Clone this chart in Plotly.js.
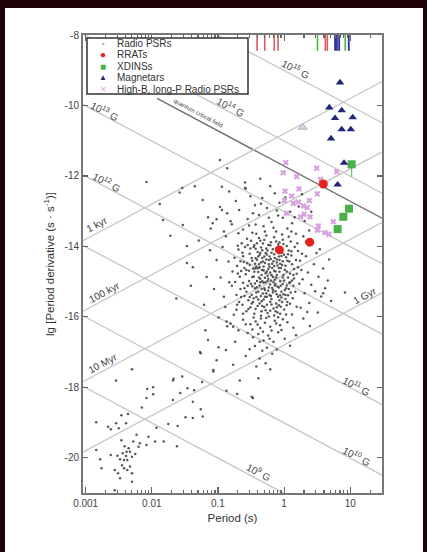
<!DOCTYPE html>
<html><head><meta charset="utf-8">
<script src="https://cdn.plot.ly/plotly-3.0.1.min.js"></script>
<style>html,body{margin:0;padding:0;background:#fff;}#chart{width:427px;height:552px;}</style>
</head><body><div id="chart"></div>
<script>
// ---- Radio pulsars, read as [lg P, lg Pdot] ----
const radioPsrCore = [[-0.52,-14.21],[-0.47,-14.63],[-0.41,-14.38],[-0.36,-14.92],[-0.33,-14.11],[-0.29,-14.47],[-0.25,-14.83],[-0.22,-14.29],[-0.18,-14.61],[-0.14,-14.95],[-0.11,-14.37],[-0.07,-14.72],[-0.03,-14.18],[0.02,-14.55],[0.06,-14.88],[0.11,-14.26],[0.15,-14.64],[-0.58,-14.79],[-0.61,-14.44],[-0.55,-15.12],[-0.49,-15.37],[-0.44,-15.05],[-0.39,-15.28],[-0.34,-15.56],[-0.30,-15.19],[-0.26,-15.43],[-0.21,-15.08],[-0.17,-15.31],[-0.12,-15.62],[-0.08,-15.17],[-0.04,-15.45],[0.01,-15.24],[0.05,-15.58],[0.09,-15.02],[-0.66,-15.21],[-0.63,-15.66],[-0.57,-15.84],[-0.51,-15.73],[-0.45,-15.91],[-0.40,-15.69],[-0.35,-15.97],[-0.28,-15.81],[-0.23,-15.99],[-0.16,-15.76],[-0.10,-15.88],[-0.05,-15.71],[0.03,-15.93],[-0.50,-13.84],[-0.45,-13.97],[-0.38,-13.76],[-0.32,-13.92],[-0.27,-13.69],[-0.20,-13.88],[-0.15,-13.74],[-0.09,-13.95],[-0.02,-13.81],[0.04,-13.99],[0.10,-13.86],[0.16,-14.02],[0.21,-14.13],[0.24,-14.41],[0.19,-14.78],[0.23,-15.06],[0.17,-15.29],[0.13,-15.47],[0.26,-14.67],[-0.69,-14.09],[-0.64,-13.91],[-0.59,-14.02],[-0.56,-14.48],[-0.71,-14.56],[-0.67,-14.86],[-0.74,-15.01],[-0.43,-14.07],[-0.37,-14.24],[-0.31,-14.68],[-0.27,-14.06],[-0.23,-14.51],[-0.19,-14.18],[-0.16,-14.42],[-0.13,-14.71],[-0.09,-14.14],[-0.06,-14.49],[-0.01,-14.81],[0.03,-14.31],[0.07,-14.12],[-0.42,-14.57],[-0.46,-14.86],[-0.39,-14.73],[-0.35,-14.46],[-0.29,-14.89],[-0.24,-14.64],[-0.20,-14.97],[-0.15,-14.22],[-0.10,-14.54],[-0.06,-14.99],[-0.02,-14.42],[0.04,-14.71],[0.08,-14.43],[0.12,-14.97],[-0.53,-14.98],[-0.48,-14.41],[-0.44,-15.19],[-0.37,-15.11],[-0.32,-15.34],[-0.28,-15.02],[-0.24,-15.26],[-0.19,-15.49],[-0.14,-15.11],[-0.11,-15.36],[-0.07,-15.53],[-0.02,-15.07],[0.02,-15.38],[0.07,-15.21],[-0.60,-15.41],[-0.54,-15.53],[-0.47,-15.58],[-0.42,-15.44],[-0.37,-15.62],[-0.31,-15.51],[-0.26,-15.66],[-0.21,-15.57],[-0.13,-15.84],[-0.08,-15.67],[0.00,-15.79],[0.06,-15.39],[-0.33,-14.33],[-0.26,-14.23],[-0.12,-14.05],[-0.40,-14.16],[-0.21,-14.74],[-0.05,-14.61],[0.00,-14.97],[-0.17,-14.87],[-0.34,-14.81],[-0.48,-15.13],[-0.52,-14.53],[-0.57,-14.67],[-0.62,-15.03],[-0.46,-15.47],[-0.30,-15.72],[-0.18,-15.18],[-0.04,-15.29],[0.09,-15.63],[0.14,-14.81],[0.18,-14.39],[0.11,-14.14],[-0.36,-13.84],[-0.24,-13.96],[-0.07,-13.89],[0.07,-13.73],[-0.56,-13.78],[-0.70,-13.98],[-0.62,-14.28],[-0.75,-14.32],[-0.78,-14.71],[-0.72,-15.38],[-0.68,-15.58],[-0.79,-15.12],[-0.65,-14.70],[-0.35,-15.41],[-0.41,-14.98],[-0.22,-15.38],[-0.10,-15.14],[0.04,-15.11],[-0.27,-14.37],[-0.11,-14.81],[-0.43,-14.34],[-0.38,-14.51],[-0.30,-14.29],[-0.15,-14.56],[-0.20,-14.36],[-0.08,-14.29],[-0.25,-14.98],[-0.33,-14.99]];
const radioPsrCoreDense = [[-0.49,-14.33],[-0.44,-14.49],[-0.40,-14.62],[-0.36,-14.19],[-0.31,-14.57],[-0.28,-14.76],[-0.23,-14.39],[-0.19,-14.81],[-0.14,-14.33],[-0.12,-14.88],[-0.08,-14.61],[-0.04,-14.27],[0.01,-14.66],[0.05,-14.41],[0.09,-14.77],[-0.53,-14.69],[-0.50,-15.06],[-0.45,-14.72],[-0.41,-15.16],[-0.38,-14.88],[-0.34,-15.21],[-0.31,-15.03],[-0.27,-15.33],[-0.23,-15.17],[-0.20,-15.41],[-0.16,-15.02],[-0.13,-15.27],[-0.09,-15.43],[-0.05,-15.12],[-0.01,-15.36],[0.03,-15.19],[-0.57,-15.29],[-0.52,-15.44],[-0.49,-15.62],[-0.43,-15.78],[-0.39,-15.51],[-0.33,-15.69],[-0.29,-15.43],[-0.25,-15.89],[-0.19,-15.65],[-0.15,-15.96],[-0.11,-15.73],[-0.06,-15.91],[-0.03,-15.58],[0.04,-15.67],[-0.46,-14.02],[-0.41,-13.91],[-0.35,-14.03],[-0.30,-13.82],[-0.25,-14.12],[-0.21,-13.97],[-0.17,-14.08],[-0.12,-13.86],[-0.06,-14.06],[-0.01,-13.93],[0.06,-14.22],[0.12,-14.51],[0.15,-14.91],[0.10,-15.31],[0.14,-15.12],[-0.60,-14.61],[-0.63,-14.18],[-0.66,-14.42],[-0.60,-15.19],[-0.65,-15.44],[-0.70,-14.77],[-0.55,-13.96],[-0.51,-14.06],[-0.32,-14.43],[-0.18,-14.49],[-0.07,-14.39],[-0.37,-14.59],[-0.26,-14.71],[-0.15,-14.69],[-0.03,-14.53],[0.00,-14.24],[-0.44,-14.63],[-0.33,-14.67],[-0.22,-14.58],[-0.11,-14.46],[-0.28,-14.19],[-0.39,-14.29],[-0.48,-14.87],[-0.36,-15.02],[-0.24,-14.92],[-0.13,-15.07],[-0.02,-14.88],[0.08,-15.03],[-0.42,-15.31],[-0.29,-15.24],[-0.17,-15.24],[-0.06,-15.39],[-0.54,-15.78],[-0.46,-16.02],[-0.34,-15.84],[-0.21,-15.83],[-0.09,-16.01],[0.02,-15.49],[-0.58,-16.21],[-0.40,-16.22],[-0.27,-16.03],[-0.12,-16.19],[-0.48,-16.36],[-0.32,-16.42],[-0.22,-16.62],[-0.37,-16.71],[-0.04,-16.37],[-0.62,-15.91],[-0.71,-15.66],[-0.76,-15.94],[0.19,-15.71],[0.12,-15.93],[0.21,-14.59],[0.27,-14.21],[0.20,-13.91],[-0.42,-13.64],[-0.29,-13.58],[-0.16,-13.47],[-0.03,-13.66],[0.11,-13.58],[-0.53,-13.41],[-0.69,-13.63],[-0.23,-13.19],[-0.47,-13.06],[-0.11,-12.98],[-0.35,-12.79]];
const radioPsrUpper = [[-0.62,-13.52],[-0.48,-13.61],[-0.31,-13.43],[-0.12,-13.58],[0.05,-13.49],[0.18,-13.64],[0.29,-13.71],[-0.79,-13.37],[-0.91,-13.58],[-0.55,-13.22],[-0.38,-13.11],[-0.19,-13.31],[-0.02,-13.19],[0.12,-13.34],[0.31,-13.28],[0.38,-13.55],[-0.68,-12.97],[-0.44,-12.83],[-0.26,-12.91],[-0.07,-12.76],[0.09,-13.02],[0.22,-12.87],[-0.86,-13.06],[-1.02,-13.23],[-0.97,-12.88],[-0.73,-12.71],[-0.51,-12.58],[-0.33,-12.63],[-0.14,-12.49],[0.02,-12.61],[-1.11,-13.49],[-0.58,-12.36],[-0.21,-12.29],[0.27,-12.52],[0.41,-13.02],[-0.83,-12.44],[-0.59,-12.19],[-0.36,-12.08],[-0.94,-12.31],[-0.43,-13.38],[-0.09,-13.12],[0.16,-13.17]];
const radioPsrRight = [[0.28,-14.93],[0.33,-14.28],[0.36,-14.74],[0.41,-15.09],[0.45,-14.51],[0.31,-15.33],[0.38,-15.61],[0.47,-15.27],[0.52,-14.86],[0.56,-15.42],[0.43,-13.91],[0.49,-14.19],[0.59,-14.63],[0.62,-15.19],[0.35,-15.86],[0.29,-16.05],[0.51,-15.88],[0.66,-14.97],[0.71,-15.55],[0.92,-15.31],[0.59,-15.33],[0.39,-16.26],[0.25,-15.74],[0.54,-14.08],[0.68,-14.37],[0.33,-13.87]];
const radioPsrLower = [[-0.62,-16.08],[-0.51,-16.21],[-0.43,-16.13],[-0.36,-16.32],[-0.29,-16.17],[-0.21,-16.28],[-0.14,-16.11],[-0.06,-16.24],[0.05,-16.15],[0.14,-16.31],[-0.55,-16.46],[-0.47,-16.58],[-0.39,-16.49],[-0.31,-16.67],[-0.24,-16.53],[-0.16,-16.71],[-0.09,-16.44],[0.01,-16.62],[-0.69,-16.38],[-0.44,-16.83],[-0.33,-16.96],[-0.26,-16.88],[-0.18,-17.05],[-0.37,-17.18],[-0.28,-17.32],[-0.52,-16.92],[-0.11,-16.93],[-0.58,-17.11],[-0.21,-17.49],[-0.42,-17.41],[0.09,-16.82],[-0.74,-16.71],[-0.81,-16.19],[-0.35,-16.05],[-0.19,-16.39],[-0.02,-16.07],[0.18,-16.52]];
const radioPsrLeft = [[-1.54,-12.34],[-1.35,-12.29],[-1.83,-13.25],[-1.23,-12.68],[-1.15,-13.17],[-1.47,-14.47],[-1.38,-14.59],[-1.17,-14.87],[-1.02,-14.39],[-0.89,-15.72],[-1.08,-13.34],[-0.86,-11.78],[-0.97,-11.55],[-0.59,-12.34],[-1.58,-12.47],[-1.88,-12.80],[-1.53,-13.39],[-1.72,-13.70],[-1.47,-13.99],[-2.08,-12.17],[-0.93,-14.02],[-0.88,-13.71],[-0.84,-14.43],[-0.96,-14.88],[-1.06,-15.21],[-0.91,-15.43],[-0.83,-15.02],[-1.21,-15.66],[-0.99,-16.02],[-0.86,-16.27],[-1.12,-14.11],[-1.29,-13.83],[-0.81,-13.29],[-1.41,-15.12],[-0.94,-12.97],[-1.19,-16.38],[-0.72,-15.80],[-1.63,-15.48]];
const radioPsrRecycled = [[-0.99,-16.86],[-1.07,-17.55],[-1.27,-17.00],[-1.24,-17.85],[-0.77,-17.36],[-0.67,-17.81],[-0.47,-18.30],[-0.87,-18.10],[-1.57,-18.16],[-1.68,-17.81],[-1.38,-18.41],[-1.98,-18.00],[-2.08,-18.30],[-0.71,-18.19],[-0.49,-18.27],[-0.39,-17.74]];
const radioPsrMsp = [[-2.54,-17.81],[-2.30,-17.49],[-2.07,-18.05],[-1.98,-18.20],[-2.15,-18.57],[-2.46,-18.79],[-2.36,-18.76],[-2.84,-18.99],[-2.66,-19.12],[-2.54,-19.02],[-2.39,-19.02],[-2.62,-19.19],[-2.50,-19.16],[-1.93,-19.15],[-1.75,-19.04],[-1.61,-19.10],[-1.49,-18.85],[-1.38,-18.87],[-1.26,-18.62],[-1.23,-18.83],[-1.68,-18.36],[-1.54,-17.69],[-1.67,-17.76],[-1.46,-18.03],[-1.36,-18.08],[-1.07,-17.51],[-1.02,-17.23],[-0.87,-16.13],[-0.77,-16.28],[-0.88,-16.94],[-1.26,-17.03],[-1.15,-16.66],[-2.46,-19.50],[-2.41,-19.67],[-2.35,-19.73],[-2.33,-19.83],[-2.44,-19.87],[-2.39,-19.95],[-2.48,-20.04],[-2.37,-20.06],[-2.30,-19.97],[-2.25,-19.89],[-2.20,-19.69],[-2.18,-19.59],[-2.28,-19.54],[-2.08,-19.64],[-2.45,-20.21],[-2.42,-20.30],[-2.33,-20.25],[-2.51,-20.44],[-2.48,-20.58],[-2.30,-20.68],[-2.56,-20.35],[-2.78,-20.04],[-2.76,-20.30],[-2.84,-19.78],[-2.56,-20.92],[-2.30,-20.44],[-2.37,-20.35],[-2.23,-19.35],[-2.05,-19.40],[-1.95,-19.54],[-1.82,-19.54],[-1.62,-19.67],[-2.52,-19.94],[-2.42,-20.06],[-2.62,-19.92],[-2.38,-19.83]];

// ---- Special classes: period (s) and lg Pdot ----
const rratPeriod = [3.92, 2.44, 0.85];
const rratLgPdot = [-12.23, -13.88, -14.10];
const xdinsPeriod = [10.5, 9.57, 7.85, 6.45];
const xdinsLgPdot = [-11.67, -12.93, -13.16, -13.51];
const xdinsErrMinus = [0.35, 0, 0, 0];
const magnetarPeriod = [7.0, 4.82, 7.43, 5.89, 10.9, 7.43, 10.2, 5.12, 8.05, 6.45];
const magnetarLgPdot = [-9.35, -10.06, -10.14, -10.36, -10.34, -10.68, -10.68, -10.94, -11.63, -12.25];
const highBPeriod = [1.06, 0.97, 1.55, 3.11, 6.24, 3.57, 1.03, 1.68, 1.30, 1.01, 1.38, 1.64, 1.95, 2.40, 2.24, 2.00, 1.78, 2.47, 3.18, 3.29, 3.18, 4.15, 4.77, 5.55, 1.09];
const highBLgPdot = [-11.62, -11.91, -12.02, -11.78, -11.88, -12.10, -12.43, -12.37, -12.57, -12.70, -12.78, -12.74, -12.85, -12.70, -12.90, -13.09, -13.16, -13.16, -12.51, -13.42, -13.54, -13.61, -13.66, -13.30, -13.06];
const otherPeriod = [1.91];
const otherLgPdot = [-10.62];

// ---- Period-only objects (ticks hanging from the top axis) ----
const rratRugPeriod = [0.39, 0.51, 0.71, 0.81, 4.2, 4.5];
const xdinsRugPeriod = [3.2, 8.4];
const magnetarRugPeriod = [5.9, 6.3, 6.8, 9.5];

// ---- Guide lines ----
const bFieldExp = [9, 10, 11, 12, 13, 14, 15];
const ageYears = [1e3, 1e5, 1e7, 1e9];
const quantumB = 4.414e13;

const xTickVals = [0.001, 0.01, 0.1, 1, 10];
const xTickText = ['0.001', '0.01', '0.1', '1', '10'];
const yTickVals = [-8, -10, -12, -14, -16, -18, -20];
const yTickText = ['-8', '-10', '-12', '-14', '-16', '-18', '-20'];

const lgPmin = -3.04, lgPmax = 1.48;
const FONT = 'Arial, "Liberation Sans", sans-serif';
const guideColor = '#c9c9c9';

const traces = [];
bFieldExp.forEach(e => {
  const xs = [lgPmin, lgPmax];
  traces.push({x: xs.map(v => Math.pow(10, v)), y: xs.map(v => 2*e - 2*Math.log10(3.2e19) - v),
    mode: 'lines', line: {color: guideColor, width: 1.4}, hoverinfo: 'skip', showlegend: false});
});
{
  const xs = [-1.92, lgPmax];
  traces.push({x: xs.map(v => Math.pow(10, v)), y: xs.map(v => 2*Math.log10(quantumB) - 2*Math.log10(3.2e19) - v),
    mode: 'lines', line: {color: '#6e6e6e', width: 1.4}, hoverinfo: 'skip', showlegend: false});
}
ageYears.forEach(a => {
  const xs = [lgPmin, lgPmax];
  const c = Math.log10(2 * a * 3.156e7);
  traces.push({x: xs.map(v => Math.pow(10, v)), y: xs.map(v => v - c),
    mode: 'lines', line: {color: guideColor, width: 1.4}, hoverinfo: 'skip', showlegend: false});
});

function rug(periods, color, width) {
  const x = [], y = [];
  periods.forEach(p => { x.push(p, p, null); y.push(-8, -8.45, null); });
  return {x, y, mode: 'lines', line: {color, width}, hoverinfo: 'skip', showlegend: false};
}
traces.push(rug(rratRugPeriod, '#d95c64', 1.6));
traces.push(rug(xdinsRugPeriod, '#4fb548', 1.6));
traces.push(rug(magnetarRugPeriod, '#2d2f9a', 1.8));

const radioAll = [].concat(radioPsrCore, radioPsrCoreDense, radioPsrUpper, radioPsrRight, radioPsrLower, radioPsrLeft, radioPsrRecycled, radioPsrMsp);
traces.push({x: radioAll.map(d => Math.pow(10, d[0])), y: radioAll.map(d => d[1]), mode: 'markers',
  marker: {symbol: 'circle', size: 2.5, color: '#3a3a3a', opacity: 0.85}, name: 'Radio PSRs'});
traces.push({x: highBPeriod, y: highBLgPdot, mode: 'markers',
  marker: {symbol: 'x', size: 5.5, color: '#d8a2e0'}, name: 'High-B, long-P Radio PSRs'});
traces.push({x: otherPeriod, y: otherLgPdot, mode: 'markers',
  marker: {symbol: 'triangle-up', size: 8, color: '#ddd0e2', line: {color: '#b9a9c2', width: 1}}, showlegend: false});
traces.push({x: rratPeriod, y: rratLgPdot, mode: 'markers',
  marker: {symbol: 'circle', size: 9, color: '#e5231b'}, name: 'RRATs'});
traces.push({x: xdinsPeriod, y: xdinsLgPdot, mode: 'markers',
  error_y: {type: 'data', symmetric: false, array: [0,0,0,0], arrayminus: xdinsErrMinus, color: '#6cc46a', thickness: 1.2, width: 0},
  marker: {symbol: 'square', size: 8, color: '#49b04a'}, name: 'XDINSs'});
traces.push({x: magnetarPeriod, y: magnetarLgPdot, mode: 'markers',
  marker: {symbol: 'triangle-up', size: 7.5, color: '#1f2676'}, name: 'Magnetars'});

const W = 427, H = 552, L = 83, R = 45, T = 35, B = 59;
const pw = W - L - R, ph = H - T - B;
const px = x => (x - L) / pw;
const py = y => (H - B - y) / ph;

const lbl = (x, y, text, angle, size) => ({x, y, xref: 'x', yref: 'y', text, showarrow: false, textangle: angle,
  font: {family: FONT, size: size || 10, color: '#444'}});
const annotations = [
  lbl(0.18, -8.97, '10<sup>15</sup> G', 28),
  lbl(-0.80, -10.04, '10<sup>14</sup> G', 28),
  lbl(-2.71, -10.16, '10<sup>13</sup> G', 28),
  lbl(-2.68, -12.17, '10<sup>12</sup> G', 28),
  lbl(1.10, -17.96, '10<sup>11</sup> G', 28),
  lbl(1.10, -19.95, '10<sup>10</sup> G', 28),
  lbl(-0.38, -20.40, '10<sup>9</sup> G', 28),
  lbl(-1.30, -10.21, 'quantum critical field', 28, 6),
  lbl(-2.83, -13.39, '1 kyr', -28),
  lbl(-2.72, -15.32, '100 kyr', -28),
  lbl(-2.75, -17.31, '10 Myr', -28),
  lbl(1.22, -15.38, '1 Gyr', -28)
];
const legendRows = [
  ['•', '#9a9a9a', 'Radio PSRs', 7],
  ['●', '#e5231b', 'RRATs', 10],
  ['■', '#49b04a', 'XDINSs', 10],
  ['▲', '#1f2676', 'Magnetars', 8],
  ['×', '#d8a2e0', 'High-B, long-P Radio PSRs', 11]
];
const rowY = [43, 54.5, 66, 77.5, 89];
legendRows.forEach((r, i) => {
  annotations.push({xref: 'paper', yref: 'paper', x: px(103), y: py(rowY[i]), text: r[0], showarrow: false,
    xanchor: 'center', yanchor: 'middle', font: {family: FONT, size: r[3], color: r[1]}});
  annotations.push({xref: 'paper', yref: 'paper', x: px(115), y: py(rowY[i]), text: r[2], showarrow: false,
    xanchor: 'left', yanchor: 'middle', font: {family: FONT, size: 10, color: '#333'}});
});

const maroon = '#1f0309';
const shapes = [
  {type: 'rect', xref: 'paper', yref: 'paper', x0: px(87), x1: px(248), y0: py(94), y1: py(38),
    line: {color: '#333', width: 1.5}, fillcolor: '#fff', layer: 'above'},
  {type: 'rect', xref: 'paper', yref: 'paper', x0: px(0), x1: px(W), y0: py(8), y1: py(0), line: {width: 0}, fillcolor: maroon, layer: 'above'},
  {type: 'rect', xref: 'paper', yref: 'paper', x0: px(0), x1: px(5), y0: py(H), y1: py(0), line: {width: 0}, fillcolor: maroon, layer: 'above'},
  {type: 'rect', xref: 'paper', yref: 'paper', x0: px(423), x1: px(W), y0: py(H), y1: py(0), line: {width: 0}, fillcolor: maroon, layer: 'above'}
];

const minorX = [];
for (let d = -3; d <= 1; d++) for (let m = 2; m <= 9; m++) { const v = m * Math.pow(10, d); if (Math.log10(v) < lgPmax) minorX.push(v); }

const layout = {
  width: W, height: H, margin: {l: L, r: R, t: T, b: B},
  paper_bgcolor: '#fff', plot_bgcolor: '#fff', showlegend: false,
  font: {family: FONT, size: 10, color: '#444'},
  xaxis: {type: 'log', range: [lgPmin, lgPmax], tickmode: 'array', tickvals: xTickVals, ticktext: xTickText,
    ticks: 'inside', ticklen: 6, tickwidth: 1.2, tickcolor: '#666', showgrid: false, zeroline: false,
    showline: true, linecolor: '#777', linewidth: 2, mirror: 'ticks',
    minor: {tickmode: 'array', tickvals: minorX, ticks: 'inside', ticklen: 3, tickcolor: '#666', showgrid: false},
    tickfont: {family: FONT, size: 10, color: '#444'},
    title: {text: 'Period (s)', font: {family: FONT, size: 11.5, color: '#333'}, standoff: 6}},
  yaxis: {range: [-21, -8], tickmode: 'array', tickvals: yTickVals, ticktext: yTickText,
    ticks: 'inside', ticklen: 5, tickwidth: 1.2, tickcolor: '#666', showgrid: false, zeroline: false,
    showline: true, linecolor: '#777', linewidth: 2, mirror: 'ticks',
    tickfont: {family: FONT, size: 10, color: '#444'},
    title: {text: 'lg [Period derivative (s · s<sup>-1</sup>)]', font: {family: FONT, size: 11.5, color: '#333'}, standoff: 8}},
  annotations, shapes
};
Plotly.newPlot('chart', traces, layout, {staticPlot: true, displayModeBar: false});
</script></body></html>
